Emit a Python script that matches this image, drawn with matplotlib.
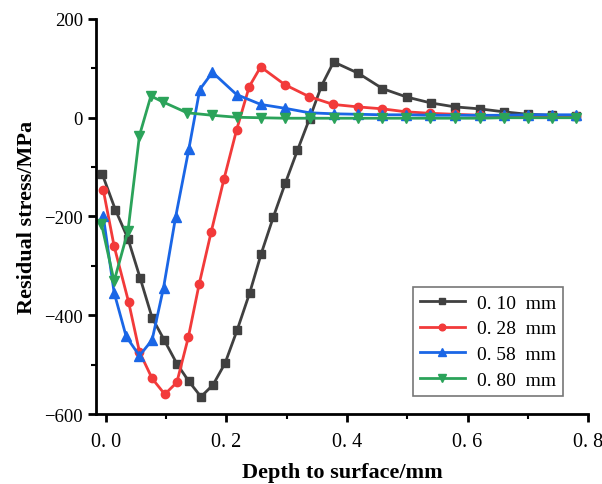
import matplotlib
matplotlib.use("Agg")
import matplotlib.pyplot as plt
from matplotlib.ticker import MultipleLocator

# ---- data ----
x_010 = [-0.006, 0.016, 0.037, 0.057, 0.077, 0.097, 0.118, 0.138, 0.158, 0.178,
         0.198, 0.218, 0.239, 0.258, 0.278, 0.298, 0.318, 0.338, 0.358, 0.378,
         0.419, 0.459, 0.499, 0.539, 0.579, 0.620, 0.660, 0.700, 0.740, 0.780]
y_010 = [-113, -186, -245, -324, -405, -450, -498, -534, -565, -541,
         -497, -430, -354, -275, -201, -132, -66, -2, 65, 113,
         90, 59, 42, 30, 22, 18, 12, 7, 5, 3]

x_028 = [-0.004, 0.014, 0.038, 0.056, 0.077, 0.098, 0.118, 0.137, 0.155, 0.175,
         0.196, 0.217, 0.238, 0.257, 0.297, 0.337, 0.377, 0.418, 0.459, 0.498,
         0.538, 0.579, 0.620, 0.660, 0.700, 0.740, 0.780]
y_028 = [-146, -260, -373, -474, -528, -560, -536, -445, -337, -231,
         -125, -25, 63, 103, 67, 43, 27, 22, 18, 12,
         9, 7, 5, 4, 4, 3, 3]

x_058 = [-0.004, 0.014, 0.034, 0.056, 0.077, 0.096, 0.116, 0.138, 0.156, 0.177,
         0.217, 0.257, 0.298, 0.338, 0.378, 0.418, 0.459, 0.498, 0.538, 0.579,
         0.620, 0.660, 0.700, 0.740, 0.780]
y_058 = [-199, -354, -443, -482, -450, -344, -201, -63, 57, 92,
         47, 27, 19, 10, 8, 7, 6, 6, 5, 5,
         5, 5, 6, 6, 6]

x_080 = [-0.007, 0.014, 0.037, 0.056, 0.075, 0.095, 0.135, 0.177, 0.217, 0.257,
         0.298, 0.338, 0.378, 0.418, 0.459, 0.498, 0.538, 0.579, 0.620, 0.660,
         0.700, 0.740, 0.780]
y_080 = [-215, -331, -229, -36, 44, 32, 10, 5, 1, 0,
         -1, -1, -1, -1, -1, -1, -1, -1, -1, 0,
         0, 0, 0]

series_labels = ["0. 10  mm", "0. 28  mm", "0. 58  mm", "0. 80  mm"]
xticks = [0.0, 0.2, 0.4, 0.6, 0.8]
xtick_labels = ["0. 0", "0. 2", "0. 4", "0. 6", "0. 8"]
yticks = [-600, -400, -200, 0, 200]
ytick_labels = ["\u2212600", "\u2212400", "\u2212200", "0", "200"]

plt.rcParams['font.family'] = ['Liberation Serif', 'DejaVu Serif']

fig = plt.figure(figsize=(6.02, 4.85), dpi=100)
ax = fig.add_axes([0.1595, 0.1443, 0.8175, 0.8145])

styles = [
    ("#404040", "s", 6),
    ("#f23a3a", "o", 6),
    ("#1a66e6", "^", 7),
    ("#2ba35a", "v", 7),
]
data = [(x_010, y_010), (x_028, y_028), (x_058, y_058), (x_080, y_080)]
for (xs, ys), (c, m, ms), lab in zip(data, styles, series_labels):
    ax.plot(xs, ys, color=c, marker=m, markersize=ms, linewidth=2, label=lab)

ax.set_xlim(-0.016, 0.8)
ax.set_ylim(-600, 200)
ax.set_xticks(xticks)
ax.set_xticklabels(xtick_labels, fontsize=14.5)
ax.set_yticks(yticks)
ax.set_yticklabels(ytick_labels, fontsize=13.5)
ax.xaxis.set_minor_locator(MultipleLocator(0.1))
ax.yaxis.set_minor_locator(MultipleLocator(100))
ax.tick_params(which='major', direction='out', length=6, width=2)
ax.tick_params(which='minor', direction='out', length=3.5, width=1.5)
ax.tick_params(axis='x', which='major', pad=7)
for s in ['top', 'right']:
    ax.spines[s].set_visible(False)
for s in ['left', 'bottom']:
    ax.spines[s].set_linewidth(2)

ax.set_xlabel("Depth to surface/mm", fontsize=16, fontweight='bold', labelpad=8)
ax.set_ylabel("Residual stress/MPa", fontsize=16, fontweight='bold', labelpad=5)

leg = ax.legend(loc='lower right', bbox_to_anchor=(0.948, 0.046), fontsize=14,
                frameon=True, fancybox=False, edgecolor='#555555',
                handlelength=2.3, handletextpad=0.6, borderpad=0.35,
                labelspacing=0.42, markerscale=0.8, borderaxespad=0)
leg.get_frame().set_linewidth(1.2)

fig.savefig("out.png", dpi=100)
